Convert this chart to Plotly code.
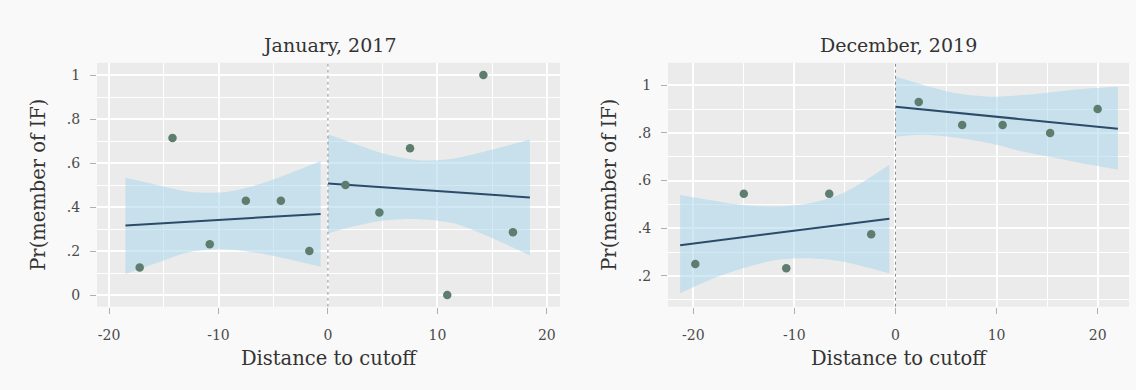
import plotly.graph_objects as go

# ---------------- data ----------------
cutoff = 0

# January, 2017 panel
jan_bin_x = [-17.2, -14.2, -10.8, -7.5, -4.3, -1.7, 1.6, 4.7, 7.5, 10.9, 14.2, 16.9]
jan_bin_y = [0.125, 0.714, 0.231, 0.429, 0.429, 0.200, 0.500, 0.375, 0.667, 0.0, 1.0, 0.286]
jan_fit_left_x = [-18.5, -0.67]
jan_fit_left_y = [0.316, 0.369]
jan_fit_right_x = [0.0, 18.45]
jan_fit_right_y = [0.507, 0.444]
jan_ci_left_x = [-18.5, -15.7, -12.7, -9.6, -6.55, -3.5, -0.67]
jan_ci_left_hi = [0.533, 0.502, 0.470, 0.467, 0.500, 0.553, 0.609]
jan_ci_left_lo = [0.096, 0.145, 0.195, 0.208, 0.192, 0.162, 0.129]
jan_ci_right_x = [0.0, 2.3, 5.3, 8.4, 11.4, 14.5, 18.45]
jan_ci_right_hi = [0.731, 0.690, 0.640, 0.612, 0.620, 0.655, 0.707]
jan_ci_right_lo = [0.280, 0.312, 0.340, 0.345, 0.327, 0.270, 0.180]

# December, 2019 panel
dec_bin_x = [-19.8, -15.0, -10.8, -6.55, -2.4, 2.3, 6.6, 10.6, 15.3, 20.0]
dec_bin_y = [0.250, 0.545, 0.232, 0.545, 0.375, 0.930, 0.833, 0.833, 0.800, 0.900]
dec_fit_left_x = [-21.3, -0.6]
dec_fit_left_y = [0.329, 0.440]
dec_fit_right_x = [0.0, 22.0]
dec_fit_right_y = [0.910, 0.817]
dec_ci_left_x = [-21.3, -18.4, -15.1, -11.8, -8.5, -5.2, -0.6]
dec_ci_left_hi = [0.540, 0.519, 0.498, 0.491, 0.505, 0.547, 0.666]
dec_ci_left_lo = [0.127, 0.183, 0.232, 0.267, 0.274, 0.260, 0.211]
dec_ci_right_x = [0.0, 2.75, 6.05, 9.36, 12.65, 15.96, 19.3, 22.0]
dec_ci_right_hi = [1.036, 1.001, 0.966, 0.952, 0.959, 0.973, 0.987, 0.994]
dec_ci_right_lo = [0.784, 0.792, 0.780, 0.757, 0.721, 0.694, 0.666, 0.645]

x_tickvals = [-20, -10, 0, 10, 20]
x_ticktext = ["-20", "-10", "0", "10", "20"]
jan_y_tickvals = [0, 0.2, 0.4, 0.6, 0.8, 1]
jan_y_ticktext = ["0", ".2", ".4", ".6", ".8", "1"]
dec_y_tickvals = [0.2, 0.4, 0.6, 0.8, 1]
dec_y_ticktext = [".2", ".4", ".6", ".8", "1"]

titles = ["January, 2017", "December, 2019"]
x_title = "Distance to cutoff"
y_title = "Pr(member of IF)"

# ---------------- style ----------------
FONT = "DejaVu Serif"
BAND = "rgba(170,215,235,0.55)"
LINE = "#2c4a6a"
DOT = "#5d7d6e"
PLOT_BG = "#ebebeb"
PAGE_BG = "#f9f9f9"

fig = go.Figure()


def add_panel(xa, ya, bin_x, bin_y, segments):
    for cx, lo, hi, fx, fy in segments:
        fig.add_trace(go.Scatter(x=cx, y=lo, mode="lines", line=dict(width=0, shape="spline", smoothing=0.8),
                                 hoverinfo="skip", showlegend=False, xaxis=xa, yaxis=ya))
        fig.add_trace(go.Scatter(x=cx, y=hi, mode="lines", line=dict(width=0, shape="spline", smoothing=0.8),
                                 fill="tonexty", fillcolor=BAND, hoverinfo="skip", showlegend=False,
                                 xaxis=xa, yaxis=ya))
        fig.add_trace(go.Scatter(x=fx, y=fy, mode="lines", line=dict(color=LINE, width=2),
                                 showlegend=False, xaxis=xa, yaxis=ya))
    fig.add_trace(go.Scatter(x=bin_x, y=bin_y, mode="markers",
                             marker=dict(color=DOT, size=8.5), showlegend=False, xaxis=xa, yaxis=ya))


add_panel("x", "y", jan_bin_x, jan_bin_y, [
    (jan_ci_left_x, jan_ci_left_lo, jan_ci_left_hi, jan_fit_left_x, jan_fit_left_y),
    (jan_ci_right_x, jan_ci_right_lo, jan_ci_right_hi, jan_fit_right_x, jan_fit_right_y),
])
add_panel("x2", "y2", dec_bin_x, dec_bin_y, [
    (dec_ci_left_x, dec_ci_left_lo, dec_ci_left_hi, dec_fit_left_x, dec_fit_left_y),
    (dec_ci_right_x, dec_ci_right_lo, dec_ci_right_hi, dec_fit_right_x, dec_fit_right_y),
])

tick_font = dict(family=FONT, size=14, color="#4a4a4a")
title_font = dict(family=FONT, size=19.5, color="#333333")

common_x = dict(
    tickvals=x_tickvals, ticktext=x_ticktext, ticks="outside", ticklen=6, tickwidth=1,
    tickcolor="#b0b0b0", showgrid=True, gridcolor="white", gridwidth=1.6, zeroline=False,
    showline=False, tickfont=tick_font, ticklabelstandoff=10,
    minor=dict(dtick=5, tick0=0, showgrid=True, gridcolor="white", gridwidth=0.7, ticks=""),
    title=dict(text=x_title, font=title_font, standoff=8),
)
common_y = dict(
    ticks="outside", ticklen=6, tickwidth=1, tickcolor="#b0b0b0", showgrid=True,
    gridcolor="white", gridwidth=1.6, zeroline=False, showline=False, tickfont=tick_font,
    ticklabelstandoff=7,
    minor=dict(dtick=0.1, tick0=0, showgrid=True, gridcolor="white", gridwidth=0.7, ticks=""),
    title=dict(text=y_title, font=title_font, standoff=16),
)

fig.update_layout(
    width=1136, height=390,
    margin=dict(l=0, r=0, t=0, b=0),
    paper_bgcolor=PAGE_BG, plot_bgcolor=PLOT_BG,
    xaxis=dict(common_x, domain=[97 / 1136, 560 / 1136], range=[-21.1, 21.2], anchor="y"),
    yaxis=dict(common_y, domain=[0.2136, 0.839], range=[-0.053, 1.056], anchor="x",
               tickvals=jan_y_tickvals, ticktext=jan_y_ticktext),
    xaxis2=dict(common_x, domain=[668 / 1136, 1129 / 1136], range=[-22.5, 23.1], anchor="y2"),
    yaxis2=dict(common_y, domain=[0.2136, 0.839], range=[0.071, 1.094], anchor="x2",
                tickvals=dec_y_tickvals, ticktext=dec_y_ticktext),
    showlegend=False,
)

for xr, yr in (("x", "y"), ("x2", "y2")):
    fig.add_shape(type="line", xref=xr, yref=f"{yr} domain", x0=cutoff, x1=cutoff, y0=0, y1=1,
                  line=dict(color="#8a8a8a", width=1, dash="dot"), layer="above")

for i, t in enumerate(titles):
    xr = "x domain" if i == 0 else "x2 domain"
    fig.add_annotation(text=t, xref=xr, x=0.5, yref="paper", y=1 - 45 / 390, yanchor="middle",
                       showarrow=False, font=dict(family=FONT, size=19, color="#333333"))

fig.write_html("out.html", config={"displayModeBar": False},
               post_script="document.body.style.margin='0px';document.body.style.background='#f9f9f9';")
